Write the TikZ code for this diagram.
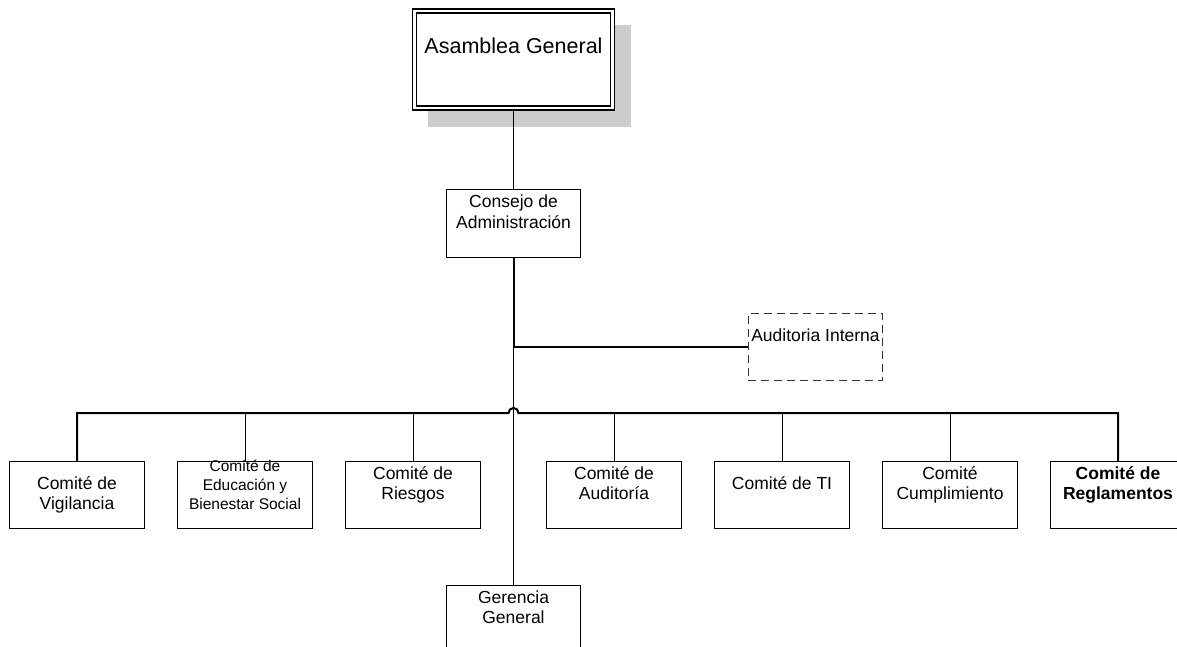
\documentclass[tikz,border=0pt]{standalone}
\usepackage{fontspec}
\setmainfont{Liberation Sans}
\usetikzlibrary{calc}
\newcommand{\tbox}[1]{\parbox[t]{170pt}{\centering #1}}
\begin{document}
\begin{tikzpicture}[x=1pt,y=-1pt,
  box/.style={draw, line width=1pt, minimum width=134.5pt, minimum height=67pt, inner sep=0pt, anchor=north},
  txt/.style={anchor=base, inner sep=0pt, font=\fontsize{17.5}{20.5}\selectfont},
  fine/.style={line width=1pt},
  heavy/.style={line width=2pt, line join=miter}]
\useasboundingbox (0,0) rectangle (1177,647);
\clip (0,0) rectangle (1177,647);
% Asamblea General
\fill[black!20] (428,25) rectangle (631,127);
\node[draw, double, double distance=2.8pt, line width=1.2pt, fill=white,
      minimum width=197.3pt, minimum height=97pt, inner sep=0pt] (ag) at (513.5,59.5) {};
\node[txt, font=\fontsize{21.5}{25}\selectfont] (agt) at (513.5,54) {Asamblea General};
% Consejo
\node[box, minimum height=68pt] (ca) at (513.5,189) {};
\node[txt] (cat) at ($(ca.north)+(0,18.7)$) {\tbox{Consejo de\\Administración}};
% Auditoria Interna
\node[box, draw=black!80, dash pattern=on 8pt off 5pt] (ai) at (815.5,313) {};
\node[txt] (ait) at (815.5,341) {Auditoria Interna};
% Committees
\node[box] (vig) at (77,461) {};
\node[box] (edu) at (245,461) {};
\node[box] (rie) at (413,461) {};
\node[box] (aud) at (614,461) {};
\node[box] (ti)  at (782,461) {};
\node[box] (cum) at (950,461) {};
\node[box] (reg) at (1118,461) {};
\node[txt] (vigt) at ($(vig.north)+(0,28)$) {\tbox{Comité de\\Vigilancia}};
\node[txt, font=\fontsize{15.5}{19}\selectfont] (edut) at ($(edu.north)+(0,10.5)$) {\tbox{Comité de\\Educación y\\Bienestar Social}};
\node[txt] (riet) at ($(rie.north)+(0,18)$) {\tbox{Comité de\\Riesgos}};
\node[txt] (audt) at ($(aud.north)+(0,18)$) {\tbox{Comité de\\Auditoría}};
\node[txt] (tit)  at ($(ti.north)+(0,28)$) {\tbox{Comité de TI}};
\node[txt] (cumt) at ($(cum.north)+(0,18)$) {\tbox{Comité\\Cumplimiento}};
\node[txt, font=\fontsize{17.5}{20.5}\selectfont\bfseries] (regt) at ($(reg.north)+(0,18)$) {\tbox{Comité de\\Reglamentos}};
% Gerencia
\node[box, minimum height=90pt] (gg) at (513.5,585) {};
\node[txt] (ggt) at ($(gg.north)+(0,18)$) {\tbox{Gerencia\\General}};
% Connectors
\draw[fine] (ag.south) -- (ca.north);
\coordinate (j1) at (ca.south |- ai.west);
\coordinate (bus) at (0,413);
\draw[heavy] (ca.south) -- (j1) -- (ai.west);
\draw[fine] (j1) -- (gg.north);
\draw[heavy] (vig.north) -- (vig.north |- bus) -- ($(j1 |- bus)+(-5,0)$)
  arc[start angle=180, end angle=360, radius=5] -- (reg.north |- bus) -- (reg.north);
\foreach \n in {edu,rie,aud,ti,cum} \draw[fine] (\n.north) -- (\n.north |- bus);
\end{tikzpicture}
\end{document}
